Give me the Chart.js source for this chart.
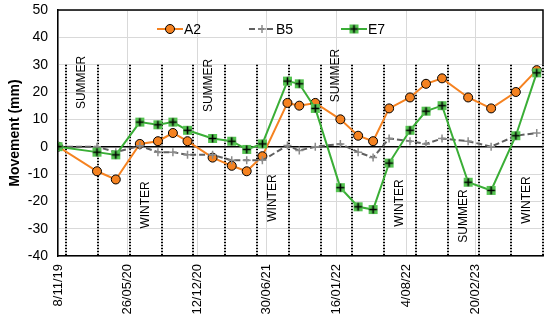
<!DOCTYPE html>
<html><head><meta charset="utf-8">
<script src="https://cdn.jsdelivr.net/npm/chart.js@4"></script>
<style>html,body{margin:0;padding:0;background:#fff;} canvas{display:block;}</style>
</head><body>
<canvas id="c" width="550" height="323"></canvas>
<script>
// ---- data ----
const surveyDates = ['2019-11-08','2020-02-28','2020-04-22','2020-06-30','2020-08-21','2020-10-03','2020-11-14',
  '2021-01-25','2021-03-21','2021-05-03','2021-06-17','2021-08-28','2021-10-01','2021-11-16','2022-01-27',
  '2022-03-19','2022-05-01','2022-06-16','2022-08-15','2022-09-30','2022-11-15','2023-01-29','2023-04-05',
  '2023-06-15','2023-08-14'];
const seriesA2 = [0,-9,-12,1,2,5,2,-4,-7,-9,-3.5,16,15,16,10,4,2,14,18,23,25,18,14,20,28];
const seriesB5 = [0,0,-2,0.3,-2,-2,-3,-3,-5,-5,-5,0.4,-1.4,0,1,-2,-4,3,2,1,3,2,0,4,5];
const seriesE7 = [0,-2,-3,9,8,9,6,3,2,-1,1,24,23,14,-15,-22,-23,-6,6,13,15,-13,-16,4,27];
const seriesNames = ['A2','B5','E7'];
const seasonStarts = ['2019-12-01','2020-03-01','2020-06-01','2020-09-01','2020-12-01','2021-03-01','2021-06-01',
  '2021-09-01','2021-12-01','2022-03-01','2022-06-01','2022-09-01','2022-12-01','2023-03-01','2023-06-01','2023-09-01'];
const seasonNames = ['SUMMER','WINTER','SUMMER','WINTER','SUMMER','WINTER','SUMMER','WINTER'];
const seasonStartIndex = [0,2,4,6,8,10,12,14];
const seasonTextValue = [23.5,-21.3,22.4,-18.8,26,-20.6,-25.4,-19.5];
const xMinDate = '2019-11-08';
const xMaxDate = '2023-09-01';
const xStepDays = 200;
const yMin = -40, yMax = 50, yStep = 10;
const seasonLineTop = 30;

// ---- helpers ----
const base = Date.UTC(2019,10,8);
const toDay = s => { const [y,m,d] = s.split('-').map(Number); return Math.round((Date.UTC(y,m-1,d)-base)/86400000); };
const fmt = v => { const dt = new Date(base + v*86400000);
  return dt.getUTCDate() + '/' + String(dt.getUTCMonth()+1).padStart(2,'0') + '/' + String(dt.getUTCFullYear()).slice(2); };
const pts = arr => arr.map((v,i) => ({x: toDay(surveyDates[i]), y: v}));

const FONT = "'Liberation Sans', Arial, sans-serif";
const ORANGE = '#f58220', GREEN = '#3aae36', GREENFILL = '#55c451', GRAYLINE = '#606060', GRAYMARK = '#8c8c8c';

function greenMarker() {
  const c = document.createElement('canvas'); c.width = 11; c.height = 11;
  const g = c.getContext('2d');
  g.fillStyle = GREENFILL; g.fillRect(1,1,9,9);
  g.strokeStyle = '#000'; g.lineWidth = 1.6;
  g.beginPath(); g.moveTo(5.5,1.5); g.lineTo(5.5,9.5); g.moveTo(1.5,5.5); g.lineTo(9.5,5.5); g.stroke();
  return c;
}
const gm = greenMarker();

const overlay = {
  id: 'overlay',
  beforeDatasetsDraw(chart) {
    const {ctx, chartArea: ca, scales: {x, y}} = chart;
    ctx.save();
    ctx.strokeStyle = '#000'; ctx.lineWidth = 2; ctx.setLineDash([1.5,1.5]);
    const yt = y.getPixelForValue(seasonLineTop), yb = y.getPixelForValue(yMin);
    seasonStarts.forEach(s => {
      const px = Math.round(x.getPixelForValue(toDay(s)));
      ctx.beginPath(); ctx.moveTo(px, yt); ctx.lineTo(px, yb); ctx.stroke();
    });
    ctx.setLineDash([]);
    ctx.lineWidth = 1.5;
    ctx.beginPath(); ctx.moveTo(ca.left, ca.top); ctx.lineTo(ca.right, ca.top); ctx.lineTo(ca.right, yt); ctx.stroke();
    ctx.fillStyle = '#000'; ctx.font = '12px ' + FONT; ctx.textAlign = 'center'; ctx.textBaseline = 'middle';
    seasonNames.forEach((t,i) => {
      const k = seasonStartIndex[i];
      const x1 = x.getPixelForValue(toDay(seasonStarts[k])), x2 = x.getPixelForValue(toDay(seasonStarts[k+1]));
      ctx.save(); ctx.translate((x1+x2)/2, y.getPixelForValue(seasonTextValue[i])); ctx.rotate(-Math.PI/2);
      ctx.fillText(t, 0, 0); ctx.restore();
    });
    ctx.restore();
  },
  afterDraw(chart) {
    const {ctx, chartArea: ca} = chart;
    ctx.save();
    const ly = ca.top + 19;
    ctx.font = '14px ' + FONT; ctx.textBaseline = 'middle'; ctx.textAlign = 'left';
    seriesNames.forEach((name, i) => {
      const x0 = ca.left + 99 + i*92, x1 = x0 + 26, xm = (x0+x1)/2;
      ctx.lineWidth = 2;
      if (i === 0) { ctx.strokeStyle = ORANGE; ctx.setLineDash([]); }
      if (i === 1) { ctx.strokeStyle = GRAYLINE; ctx.setLineDash([6,3]); }
      if (i === 2) { ctx.strokeStyle = GREEN; ctx.setLineDash([]); }
      ctx.beginPath(); ctx.moveTo(x0, ly); ctx.lineTo(x1, ly); ctx.stroke();
      ctx.setLineDash([]);
      if (i === 0) { ctx.beginPath(); ctx.arc(xm, ly, 4.5, 0, Math.PI*2); ctx.fillStyle = ORANGE; ctx.fill();
        ctx.lineWidth = 1; ctx.strokeStyle = '#000'; ctx.stroke(); }
      if (i === 1) { ctx.strokeStyle = GRAYMARK; ctx.lineWidth = 1.5; ctx.beginPath();
        ctx.moveTo(xm-4, ly); ctx.lineTo(xm+4, ly); ctx.moveTo(xm, ly-4); ctx.lineTo(xm, ly+4); ctx.stroke(); }
      if (i === 2) { ctx.drawImage(gm, xm-5.5, ly-5.5); }
      ctx.fillStyle = '#000'; ctx.fillText(name, x1 + 1, ly + 1);
    });
    ctx.restore();
  }
};

new Chart(document.getElementById('c'), {
  type: 'line',
  data: {
    datasets: [
      { label: seriesNames[0], data: pts(seriesA2), borderColor: ORANGE, borderWidth: 2, order: 3,
        pointStyle: 'circle', pointRadius: 4.5, pointBackgroundColor: ORANGE, pointBorderColor: '#000', pointBorderWidth: 1 },
      { label: seriesNames[1], data: pts(seriesB5), borderColor: GRAYLINE, borderWidth: 2, borderDash: [6,3], order: 2,
        pointStyle: 'cross', pointRadius: 4, pointBorderColor: GRAYMARK, pointBorderWidth: 1.5 },
      { label: seriesNames[2], data: pts(seriesE7), borderColor: GREEN, borderWidth: 2, order: 1,
        pointStyle: gm, pointRadius: 5 }
    ]
  },
  options: {
    responsive: false, animation: false, devicePixelRatio: 1,
    layout: { padding: { top: 10, right: 6, left: 0, bottom: 0 } },
    plugins: { legend: { display: false }, tooltip: { enabled: false } },
    scales: {
      x: {
        type: 'linear', min: toDay(xMinDate), max: toDay(xMaxDate),
        afterBuildTicks: s => { const t = []; for (let v = s.min; v <= s.max; v += xStepDays) t.push({value: v}); s.ticks = t; },
        afterFit: s => { s.height = 67; s.paddingLeft = 0; s.paddingRight = 0; },
        ticks: { stepSize: xStepDays, minRotation: 90, maxRotation: 90, padding: 8, autoSkip: false,
          color: '#000', font: { family: FONT, size: 13 }, callback: v => fmt(v) },
        grid: { color: '#d9d9d9', lineWidth: 1, drawTicks: false },
        border: { color: '#000', width: 1.5 }
      },
      y: {
        min: yMin, max: yMax,
        afterFit: s => { s.width = 58; s.paddingTop = 0; s.paddingBottom = 0; },
        ticks: { stepSize: yStep, padding: 10, color: '#000', font: { family: FONT, size: 14 } },
        grid: { drawTicks: false,
          color: c => (c.tick.value === 0 ? '#000' : '#d9d9d9'),
          lineWidth: c => (c.tick.value === 0 ? 1.5 : 1) },
        border: { color: '#000', width: 1.5 },
        title: { display: true, text: 'Movement (mm)', color: '#000',
          font: { family: FONT, size: 14, weight: 'bold' }, padding: { top: 7, bottom: 0 } }
      }
    }
  },
  plugins: [overlay]
});
</script>
</body></html>
